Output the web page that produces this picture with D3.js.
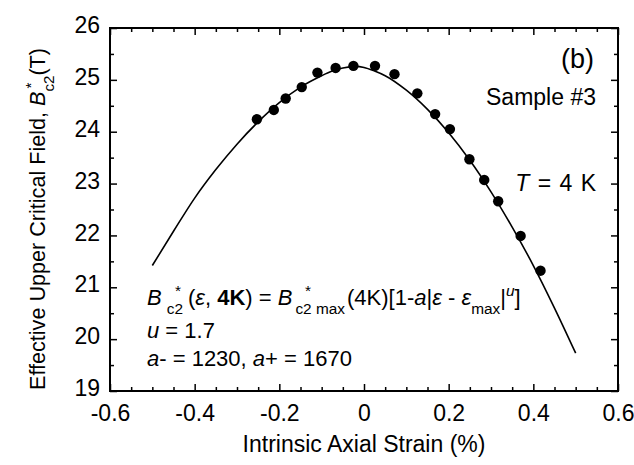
<!DOCTYPE html>
<html>
<head>
<meta charset="utf-8">
<script src="https://cdn.jsdelivr.net/npm/d3@7"></script>
<style>
  body { margin: 0; background: #fff; }
  text { font-family: "Liberation Sans", Arial, sans-serif; fill: #000; white-space: pre; }
</style>
</head>
<body>
<div id="chart"></div>
<script>
// measured data points
var strainPts = [-0.253, -0.213, -0.185, -0.147, -0.110, -0.067, -0.025, 0.026, 0.072,
                 0.126, 0.168, 0.203, 0.249, 0.284, 0.317, 0.370, 0.417];
var bc2Pts = [24.24, 24.42, 24.64, 24.86, 25.14, 25.23, 25.27, 25.27, 25.11,
              24.74, 24.34, 24.05, 23.47, 23.07, 22.66, 21.99, 21.32];

// fitted curve
var fitStrain = [-0.5, -0.45, -0.4, -0.35, -0.3, -0.25, -0.2, -0.15, -0.1, -0.075, -0.05, -0.02,
                 0, 0.025, 0.05, 0.1, 0.15, 0.2, 0.25, 0.3, 0.35, 0.4, 0.45, 0.5];
var fitBc2 = [21.42, 22.08, 22.72, 23.27, 23.76, 24.19, 24.56, 24.86, 25.08, 25.17, 25.23, 25.26,
              25.24, 25.17, 25.08, 24.80, 24.43, 23.98, 23.45, 22.84, 22.16, 21.42, 20.60, 19.73];

// ticks
var xMajor = [-0.6, -0.4, -0.2, 0, 0.2, 0.4, 0.6];
var xMinor = d3.range(-0.55, 0.6, 0.05).filter(function(v) {
  return Math.abs(Math.round(v * 5) - v * 5) > 0.01;
});
var yMajor = [19, 20, 21, 22, 23, 24, 25, 26];
var yMinor = [19.5, 20.5, 21.5, 22.5, 23.5, 24.5, 25.5];

var width = 634;
var height = 465;

var svg = d3.select("#chart")
    .append("svg")
    .attr("width", width)
    .attr("height", height);

var xScale = d3.scaleLinear().domain([-0.6, 0.6]).range([110, 618]);
var yScale = d3.scaleLinear().domain([19, 26]).range([391, 28]);

var fmt = function(d) { return String(d); };

// bottom axis
svg.append("g")
    .attr("class", "xAxis")
    .attr("transform", "translate(0,391)")
    .call(d3.axisBottom(xScale).tickValues(xMajor).tickSize(-7).tickPadding(14).tickFormat(fmt));
svg.append("g")
    .attr("transform", "translate(0,391)")
    .call(d3.axisBottom(xScale).tickValues(xMinor).tickSize(-4).tickFormat(""));
// top axis
svg.append("g")
    .attr("transform", "translate(0,28)")
    .call(d3.axisTop(xScale).tickValues(xMajor).tickSize(-7).tickFormat(""));
svg.append("g")
    .attr("transform", "translate(0,28)")
    .call(d3.axisTop(xScale).tickValues(xMinor).tickSize(-4).tickFormat(""));
// left axis
svg.append("g")
    .attr("class", "yAxis")
    .attr("transform", "translate(110,0)")
    .call(d3.axisLeft(yScale).tickValues(yMajor).tickSize(-7).tickPadding(10).tickFormat(fmt));
svg.append("g")
    .attr("transform", "translate(110,0)")
    .call(d3.axisLeft(yScale).tickValues(yMinor).tickSize(-4).tickFormat(""));
// right axis
svg.append("g")
    .attr("transform", "translate(618,0)")
    .call(d3.axisRight(yScale).tickValues(yMajor).tickSize(-7).tickFormat(""));
svg.append("g")
    .attr("transform", "translate(618,0)")
    .call(d3.axisRight(yScale).tickValues(yMinor).tickSize(-4).tickFormat(""));

svg.selectAll(".domain").remove();
svg.selectAll(".tick line").attr("stroke", "#000").attr("stroke-width", 1.5);
svg.selectAll(".tick text")
    .attr("font-size", 23)
    .style("font-family", "Liberation Sans, Arial, sans-serif");
svg.selectAll(".yAxis .tick text").attr("dy", "0.2em");

// frame
svg.append("rect")
    .attr("x", 110)
    .attr("y", 28)
    .attr("width", 508)
    .attr("height", 363)
    .attr("fill", "none")
    .attr("stroke", "#000")
    .attr("stroke-width", 2);

// fit line
var fitData = fitStrain.map(function(s, i) { return [s, fitBc2[i]]; });
var line = d3.line()
    .x(function(d) { return xScale(d[0]); })
    .y(function(d) { return yScale(d[1]); })
    .curve(d3.curveMonotoneX);

svg.append("path")
    .datum(fitData)
    .attr("d", line)
    .attr("fill", "none")
    .attr("stroke", "#000")
    .attr("stroke-width", 1.6);

// data points
svg.selectAll("circle.pt")
    .data(strainPts)
    .enter()
    .append("circle")
    .attr("class", "pt")
    .attr("cx", function(d) { return xScale(d); })
    .attr("cy", function(d, i) { return yScale(bc2Pts[i]); })
    .attr("r", 5.2)
    .attr("fill", "#000");

// write text made of styled pieces, one after another
function richText(parent, x, y, segs, size) {
  var cx = x;
  segs.forEach(function(s) {
    var fs = s.small ? size * 0.7 : size;
    var dy = 0;
    if (s.pos === "sub") dy = size * 0.42;
    if (s.pos === "sup") dy = -size * 0.42;
    var t = parent.append("text")
        .attr("x", cx + (s.dx || 0))
        .attr("y", y + dy)
        .attr("font-size", fs)
        .style("font-style", s.i ? "italic" : "normal")
        .style("font-weight", s.b ? "bold" : "normal")
        .text(s.t);
    var w = t.node().getComputedTextLength();
    if (!s.stack) cx += w + (s.dx || 0);
  });
  return cx;
}

// axis titles
svg.append("text")
    .attr("x", 364)
    .attr("y", 452)
    .attr("text-anchor", "middle")
    .attr("font-size", 23)
    .text("Intrinsic Axial Strain (%)");

var yTitle = svg.append("g").attr("transform", "translate(45,390) rotate(-90)");
richText(yTitle, 0, 0, [
  { t: "Effective Upper Critical Field, " },
  { t: "B", i: true },
  { t: "*", pos: "sup", small: true, stack: true, dx: 3 },
  { t: "c2", pos: "sub", small: true },
  { t: "(T)" }
], 21.6);

// annotations
svg.append("text")
    .attr("x", 594)
    .attr("y", 68)
    .attr("text-anchor", "end")
    .attr("font-size", 27)
    .text("(b)");

svg.append("text")
    .attr("x", 596)
    .attr("y", 105)
    .attr("text-anchor", "end")
    .attr("font-size", 23)
    .text("Sample #3");

var tText = svg.append("text")
    .attr("x", 596)
    .attr("y", 191)
    .attr("text-anchor", "end")
    .attr("font-size", 23)
    .style("word-spacing", "2px");
tText.append("tspan").style("font-style", "italic").text("T");
tText.append("tspan").text(" = 4 K");

var note = svg.append("g");
richText(note, 147, 305, [
  { t: "B", i: true },
  { t: "c2", pos: "sub", small: true, dx: 5 },
  { t: "*", pos: "sup", small: true, stack: true, dx: -8 },
  { t: "(", dx: 5 },
  { t: "ε", i: true },
  { t: ", " },
  { t: "4K", b: true },
  { t: ") = " },
  { t: "B", i: true },
  { t: "c2 max", pos: "sub", small: true, dx: 3 },
  { t: "*", pos: "sup", small: true, stack: true, dx: -40 },
  { t: "(4K)[1-", dx: 2 },
  { t: "a", i: true },
  { t: "|" },
  { t: "ε", i: true },
  { t: " - " },
  { t: "ε", i: true },
  { t: "max", pos: "sub", small: true },
  { t: "|" },
  { t: "u", pos: "sup", small: true, i: true },
  { t: "]" }
], 22);

richText(note, 147, 338, [
  { t: "u", i: true },
  { t: " = 1.7" }
], 22);

richText(note, 147, 366, [
  { t: "a", i: true },
  { t: "- = 1230, " },
  { t: "a", i: true },
  { t: "+ = 1670" }
], 22);
</script>
</body>
</html>
